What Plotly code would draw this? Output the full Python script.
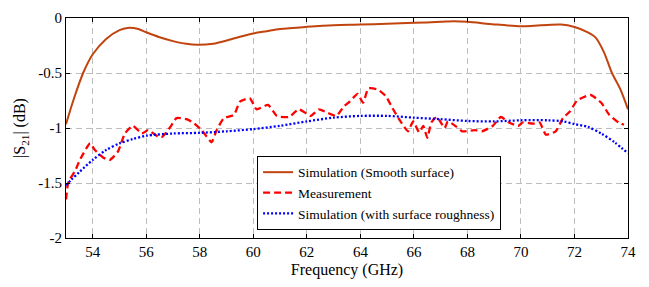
import plotly.graph_objects as go

# Simulation (smooth surface)
smooth_f = [53.0, 53.3, 53.64, 54.0, 54.5, 55.0, 55.3, 55.7, 56.0, 56.5, 57.0, 57.5, 57.9, 58.5, 59.0,
            59.5, 60.0, 60.5, 61.0, 62.0, 63.0, 64.0, 65.0, 66.0, 67.0, 67.5, 68.0, 69.0, 70.0, 70.5,
            71.0, 71.5, 72.0, 72.5, 72.8, 73.1, 73.4, 73.7, 74.0]
smooth_v = [-0.965, -0.73, -0.5, -0.33, -0.19, -0.11, -0.09, -0.10, -0.13, -0.175, -0.21, -0.235, -0.243, -0.234, -0.205,
            -0.17, -0.14, -0.12, -0.10, -0.08, -0.065, -0.06, -0.053, -0.044, -0.035, -0.03, -0.035, -0.058, -0.075, -0.07,
            -0.064, -0.06, -0.082, -0.13, -0.18, -0.31, -0.50, -0.64, -0.83]

# Measurement
meas_f = [53.0, 53.09, 53.34, 53.52, 53.9, 54.08, 54.4, 54.64, 54.95, 55.2, 55.5, 55.83, 56.07, 56.45, 56.6,
          56.9, 57.13, 57.5, 57.75, 58.07, 58.2, 58.44, 58.63, 58.9, 59.28, 59.5, 59.87, 60.12, 60.55, 60.88,
          61.33, 61.7, 62.15, 62.45, 62.75, 63.1, 63.4, 63.6, 63.9, 64.1, 64.3, 64.65, 64.95, 65.2, 65.5,
          65.78, 65.97, 66.2, 66.35, 66.5, 66.65, 66.86, 67.15, 67.27, 67.6, 67.8, 68.3, 68.54, 68.95, 69.25,
          69.55, 69.9, 70.07, 70.45, 70.7, 70.93, 71.3, 71.57, 71.83, 72.1, 72.6, 73.0, 73.3, 73.65, 73.85]
meas_v = [-1.65, -1.49, -1.39, -1.29, -1.14, -1.20, -1.27, -1.29, -1.21, -1.05, -0.98, -1.05, -1.02, -1.08, -1.08,
          -0.99, -0.91, -0.92, -0.95, -1.02, -1.06, -1.13, -1.02, -0.91, -0.88, -0.76, -0.73, -0.83, -0.79, -0.89,
          -0.90, -0.83, -0.89, -0.83, -0.86, -0.89, -0.80, -0.76, -0.69, -0.77, -0.64, -0.65, -0.71, -0.82, -0.94,
          -1.03, -0.94, -1.04, -0.98, -1.09, -0.95, -0.90, -1.00, -0.94, -0.99, -1.03, -1.02, -1.03, -0.98, -0.90,
          -0.95, -0.98, -0.95, -0.96, -0.95, -1.06, -1.03, -0.91, -0.85, -0.75, -0.70, -0.77, -0.88, -0.95, -0.97]

# Simulation (with surface roughness)
rough_f = [53.0, 53.2, 53.5, 54.0, 54.5, 55.0, 55.5, 56.0, 57.0, 58.0, 59.0, 60.0, 61.0, 62.0, 63.0,
           64.0, 65.0, 66.0, 67.0, 68.0, 69.0, 70.0, 71.0, 71.6, 72.0, 72.5, 73.0, 73.5, 74.0]
rough_v = [-1.52, -1.47, -1.40, -1.29, -1.20, -1.14, -1.10, -1.07, -1.05, -1.044, -1.03, -1.01, -0.98, -0.94, -0.906,
           -0.89, -0.89, -0.906, -0.92, -0.936, -0.94, -0.93, -0.93, -0.94, -0.965, -0.99, -1.05, -1.13, -1.23]

x_ticks = [54, 56, 58, 60, 62, 64, 66, 68, 70, 72, 74]
y_ticks = [0, -0.5, -1, -1.5, -2]
y_labels = ["0", "-0.5", "-1", "-1.5", "-2"]

SERIF = "Times New Roman, Liberation Serif, serif"

fig = go.Figure()
fig.add_trace(go.Scatter(x=smooth_f, y=smooth_v, mode="lines", name="Simulation (Smooth surface)",
                         line=dict(color="#C1440E", width=2, shape="spline", smoothing=0.8)))
fig.add_trace(go.Scatter(x=meas_f, y=meas_v, mode="lines", name="Measurement",
                         line=dict(color="#FF0000", width=2.3, dash="7px,4px", shape="spline", smoothing=0.5)))
fig.add_trace(go.Scatter(x=rough_f, y=rough_v, mode="lines", name="Simulation (with surface roughness)",
                         line=dict(color="#0000FF", width=2.3, dash="2px,2px", shape="spline", smoothing=0.8)))

axis_common = dict(showline=True, linecolor="black", linewidth=1, mirror="ticks", ticks="inside", ticklen=4,
                   tickcolor="black", showgrid=True, gridcolor="#BDBDBD", griddash="6px,4px", gridwidth=1,
                   zeroline=False, ticklabeloverflow="allow",
                   tickfont=dict(family=SERIF, size=15, color="black"))

fig.update_xaxes(range=[53, 74], tickvals=x_ticks,
                 title=dict(text="Frequency (GHz)", font=dict(family=SERIF, size=16, color="black"), standoff=4),
                 **axis_common)
fig.update_yaxes(range=[-2, 0], tickvals=y_ticks, ticktext=y_labels,
                 title=dict(text="|S<sub>21</sub>| (dB)", font=dict(family=SERIF, size=16, color="black"), standoff=8),
                 **axis_common)

fig.update_layout(
    width=649, height=287,
    margin=dict(l=58, r=29, t=2, b=57),
    paper_bgcolor="white", plot_bgcolor="white",
    showlegend=True,
    legend=dict(x=0.34, y=0.205, xanchor="left", yanchor="middle", bgcolor="white", bordercolor="black", borderwidth=1,
                font=dict(family=SERIF, size=13.5, color="black"), tracegroupgap=0, itemwidth=30),
)

fig.write_html("out.html")
